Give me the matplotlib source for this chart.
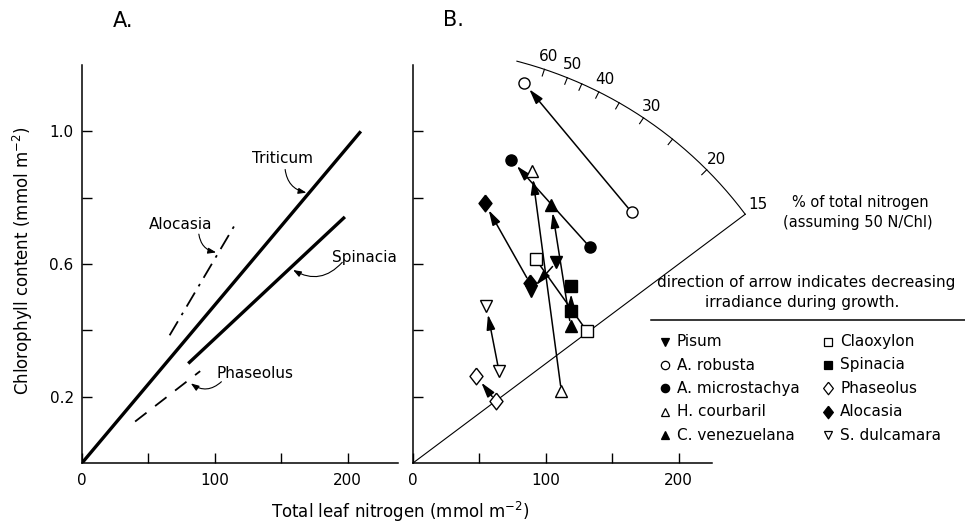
import numpy as np
import matplotlib
matplotlib.use("Agg")
import matplotlib.pyplot as plt

plt.rcParams['font.family'] = ['DejaVu Sans']
plt.rcParams['mathtext.fontset'] = 'dejavusans'

# ---- panel A: fitted lines (N, Chl)
triticum_x = [0, 210]
triticum_y = [0.0, 1.0]
spinacia_a_x = [80, 198]
spinacia_a_y = [0.30, 0.742]
alocasia_a_x = [66, 115]
alocasia_a_y = [0.385, 0.717]
phaseolus_a_x = [40, 89]
phaseolus_a_y = [0.125, 0.277]

# ---- panel B: pairs (high irradiance -> low irradiance)
pisum_x = [107.8, 88.5]
pisum_y = [0.605, 0.518]
robusta_x = [164.6, 83.5]
robusta_y = [0.756, 1.146]
micro_x = [133.3, 74.0]
micro_y = [0.650, 0.914]
courbaril_x = [111.6, 89.5]
courbaril_y = [0.217, 0.880]
venez_x = [118.6, 104.1]
venez_y = [0.413, 0.779]
claox_x = [130.8, 92.2]
claox_y = [0.398, 0.615]
spin_x = [119.0, 119.0]
spin_y = [0.459, 0.534]
phas_x = [62.2, 47.6]
phas_y = [0.187, 0.262]
aloc_x = [87.7, 53.9]
aloc_y = [0.544, 0.784]
dulc_x = [64.7, 55.2]
dulc_y = [0.277, 0.472]

arc_ticks = [60, 50, 45, 40, 35, 30, 25, 20]
arc_labels = [60, 50, 40, 30, 20, 15]

DIAMOND = [(0, 1), (0.78, 0), (0, -1), (-0.78, 0), (0, 1)]

W, H = 965, 527
fig = plt.figure(figsize=(W / 100, H / 100), dpi=100)

def px_axes(left, right, top, bottom):
    return fig.add_axes([left / W, 1 - bottom / H, (right - left) / W, (bottom - top) / H])

YTOP = 1.2
axA = px_axes(82, 398, 65, 463)
axB = px_axes(413, 712, 65, 463)

for ax, xmax in ((axA, 238), (axB, 225)):
    ax.set_xlim(0, xmax)
    ax.set_ylim(0, YTOP)
    ax.spines['top'].set_visible(False)
    ax.spines['right'].set_visible(False)
    for s in ('left', 'bottom'):
        ax.spines[s].set_linewidth(1.1)
    ax.set_xticks([0, 50, 100, 150, 200])
    ax.set_xticklabels(['0', '', '100', '', '200'])
    ax.set_yticks([0.2, 0.4, 0.6, 0.8, 1.0])
    ax.tick_params(direction='in', length=7, width=1, labelsize=11)
    ax.tick_params(axis='x', pad=7)
    ax.tick_params(axis='y', pad=6)

axA.set_yticklabels(['0.2', '', '0.6', '', '1.0'])
axB.set_yticklabels([''] * 5)

# ---- panel A
axA.plot(triticum_x, triticum_y, color='k', lw=2.4, solid_capstyle='butt')
axA.plot(spinacia_a_x, spinacia_a_y, color='k', lw=2.4, solid_capstyle='butt')
axA.plot(alocasia_a_x, alocasia_a_y, color='k', lw=1.3, dashes=(9, 4, 1.5, 4))
axA.plot(phaseolus_a_x, phaseolus_a_y, color='k', lw=1.3, dashes=(8, 6))

lab_kw = dict(fontsize=11, ha='center', va='center')
axA.text(151, 0.918, 'Triticum', **lab_kw)
axA.text(74, 0.718, 'Alocasia', **lab_kw)
axA.text(212.5, 0.62, 'Spinacia', **lab_kw)
axA.text(130.6, 0.27, 'Phaseolus', **lab_kw)

cv_kw = dict(arrowstyle='-|>,head_length=0.6,head_width=0.22', color='k', lw=0.8,
             mutation_scale=8, shrinkA=0, shrinkB=0)
axA.annotate('', xy=(169, 0.815), xytext=(153, 0.885),
             arrowprops=dict(connectionstyle='arc3,rad=0.35', **cv_kw))
axA.annotate('', xy=(101, 0.635), xytext=(88, 0.69),
             arrowprops=dict(connectionstyle='arc3,rad=0.35', **cv_kw))
axA.annotate('', xy=(159, 0.582), xytext=(196, 0.605),
             arrowprops=dict(connectionstyle='arc3,rad=-0.4', **cv_kw))
axA.annotate('', xy=(82, 0.24), xytext=(105, 0.245),
             arrowprops=dict(connectionstyle='arc3,rad=-0.4', **cv_kw))

# ---- panel B : 15 % reference line and the % arc
px_x = (712 - 413) / 225.0
px_y = (463 - 65) / YTOP
end_x, end_y = 250, 0.75
axB.plot([0, end_x], [0, end_y], color='k', lw=0.8, clip_on=False)
R = np.hypot(end_x * px_x, end_y * px_y)

def ang(p):
    return np.arctan(p / 5000.0 * px_y / px_x)

th = np.linspace(ang(15), np.radians(75.5), 200)
axB.plot(R * np.cos(th) / px_x, R * np.sin(th) / px_y, color='k', lw=0.8, clip_on=False)
for p in arc_ticks:
    t = ang(p)
    r = np.array([R - 7, R])
    axB.plot(r * np.cos(t) / px_x, r * np.sin(t) / px_y, color='k', lw=0.8, clip_on=False)
for p in arc_labels:
    t = ang(p)
    r = R + 14 if p != 15 else R + 16
    axB.text(r * np.cos(t) / px_x, r * np.sin(t) / px_y, str(p), fontsize=11,
             ha='center', va='center', clip_on=False)

# ---- panel B data
ar_kw = dict(arrowstyle='-|>,head_length=0.9,head_width=0.26', color='k', lw=1.1,
             mutation_scale=10, shrinkA=4, shrinkB=6)

def pair(xs, ys, marker, filled, head=True, ms=8):
    style = ar_kw if head else dict(ar_kw, arrowstyle='-')
    axB.annotate('', xy=(xs[1], ys[1]), xytext=(xs[0], ys[0]), arrowprops=style,
                 annotation_clip=False)
    axB.plot(xs, ys, ls='none', marker=marker, ms=ms, mec='k', mew=1.0,
             mfc='k' if filled else 'white', zorder=5)

pair(claox_x, claox_y, 's', False, head=False)
pair(courbaril_x, courbaril_y, '^', False)
pair(venez_x, venez_y, '^', True)
pair(pisum_x, pisum_y, 'v', True)
pair(spin_x, spin_y, 's', True)
pair(aloc_x, aloc_y, DIAMOND, True, ms=12)
pair(robusta_x, robusta_y, 'o', False)
pair(micro_x, micro_y, 'o', True)
pair(phas_x, phas_y, DIAMOND, False, ms=12)
pair(dulc_x, dulc_y, 'v', False)

# ---- overlay in pixel coordinates for titles, labels and legend
ov = fig.add_axes([0, 0, 1, 1])
ov.set_xlim(0, W)
ov.set_ylim(H, 0)
ov.axis('off')

ov.text(123, 21, 'A.', fontsize=15, ha='center', va='center')
ov.text(453, 20, 'B.', fontsize=15, ha='center', va='center')
ov.text(400, 512, r'Total leaf nitrogen (mmol m$^{-2}$)', fontsize=12, ha='center', va='center')
ov.text(23, 261, r'Chlorophyll content (mmol m$^{-2}$)', fontsize=12, ha='center',
        va='center', rotation=90)

ov.text(860, 203, '% of total nitrogen', fontsize=10.5, ha='center', va='center')
ov.text(858, 222, '(assuming 50 N/Chl)', fontsize=10.5, ha='center', va='center')

ov.text(806, 283, 'direction of arrow indicates decreasing', fontsize=11, ha='center', va='center')
ov.text(802, 303, 'irradiance during growth.', fontsize=11, ha='center', va='center')
ov.plot([651, 965], [320, 320], color='k', lw=1.1)

legend_names = ['Pisum', 'A. robusta', 'A. microstachya', 'H. courbaril', 'C. venezuelana',
                'Claoxylon', 'Spinacia', 'Phaseolus', 'Alocasia', 'S. dulcamara']
legend_markers = ['v', 'o', 'o', '^', '^', 's', 's', DIAMOND, DIAMOND, 'v']
legend_filled = [True, False, True, False, True, False, True, False, True, False]

row_y = [341.7, 365, 388.3, 411.7, 435]
for i, (name, mk, fl) in enumerate(zip(legend_names, legend_markers, legend_filled)):
    col, row = divmod(i, 5)
    mx = 665 if col == 0 else 828
    ov.plot([mx], [row_y[row]], ls='none', marker=mk, ms=6 if mk is not DIAMOND else 9,
            mec='k', mew=0.9, mfc='k' if fl else 'white')
    ov.text(mx + 12, row_y[row], name, fontsize=11, ha='left', va='center')

fig.savefig('out.png', dpi=100)
